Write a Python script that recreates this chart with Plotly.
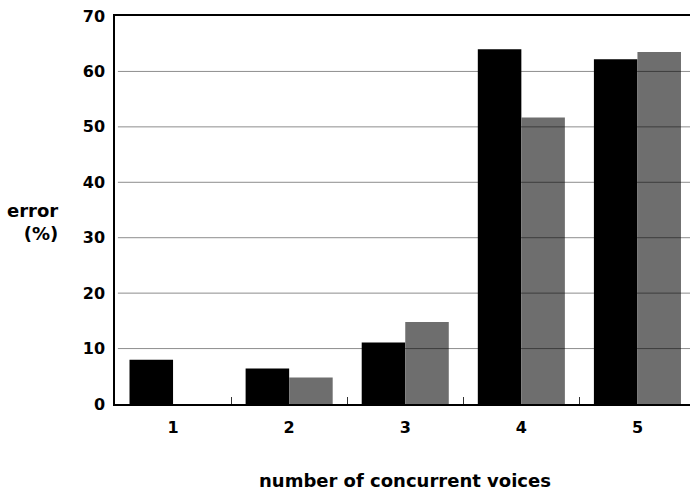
import plotly.graph_objects as go

categories = [1, 2, 3, 4, 5]
tick_labels = ["1", "2", "3", "4", "5"]
series_black = [8.0, 6.4, 11.1, 64.0, 62.2]
series_gray = [0.0, 4.8, 14.8, 51.7, 63.5]
y_ticks = [0, 10, 20, 30, 40, 50, 60, 70]

W, H = 690, 493
L, R, T, B = 114.5, 0, 15.7, 88.5
plot_w = W - L - R
plot_h = H - T - B
cat_px = 116.2

fig = go.Figure()
fig.add_trace(go.Bar(x=categories, y=series_black, marker=dict(color="#000000", line=dict(width=0)), name="a"))
fig.add_trace(go.Bar(x=categories, y=series_gray, marker=dict(color="#6e6e6e", line=dict(width=0)), name="b"))

# horizontal grid lines drawn on top of bars (semi-transparent dark)
for v in y_ticks[1:-1]:
    fig.add_shape(type="line", xref="paper", yref="y", x0=0.005, x1=1, y0=v, y1=v,
                  line=dict(color="rgba(0,0,0,0.45)", width=1), layer="above")

font = "DejaVu Sans, Arial, sans-serif"
fig.update_layout(
    width=W, height=H,
    margin=dict(l=L, r=R, t=T, b=B, pad=0),
    plot_bgcolor="white", paper_bgcolor="white",
    barmode="group", bargap=0.25, bargroupgap=0,
    showlegend=False,
    font=dict(family=font, color="black"),
    xaxis=dict(
        range=[0.5, 0.5 + plot_w / cat_px],
        tickmode="array", tickvals=categories, ticktext=["<b>%s</b>" % t for t in tick_labels],
        tickfont=dict(size=16, family=font),
        ticks="", ticklabelstandoff=8,
        showgrid=False, zeroline=False,
        showline=True, linecolor="black", linewidth=2, mirror=True,
        minor=dict(tickmode="array", tickvals=[1.5, 2.5, 3.5, 4.5], ticks="inside", ticklen=7,
                   tickcolor="#333", tickwidth=1, showgrid=False),
    ),
    yaxis=dict(
        range=[0, 70], tickmode="array", tickvals=y_ticks,
        ticktext=["<b>%d</b>" % v for v in y_ticks],
        tickfont=dict(size=16, family=font),
        ticks="", ticklabelstandoff=5,
        showgrid=False, zeroline=False,
        showline=True, linecolor="black", linewidth=1.5,
    ),
)

fig.add_annotation(x=59, y=H - 222, text="<b>error<br>(%)</b>",
                   showarrow=False, align="right", xanchor="right", yanchor="middle",
                   font=dict(size=18, family=font))
fig.add_annotation(x=405, y=H - 481, text="<b>number of concurrent voices</b>",
                   showarrow=False, xanchor="center", yanchor="middle",
                   font=dict(size=18, family=font))

# convert pixel annotations to paper coords
for a in fig.layout.annotations:
    a.xref = "paper"
    a.yref = "paper"
    a.x = (a.x - L) / plot_w
    a.y = (a.y - B) / plot_h

fig.write_html("out.html", config={"displayModeBar": False},
               post_script="document.body.style.margin='0';document.body.style.overflow='hidden';")
